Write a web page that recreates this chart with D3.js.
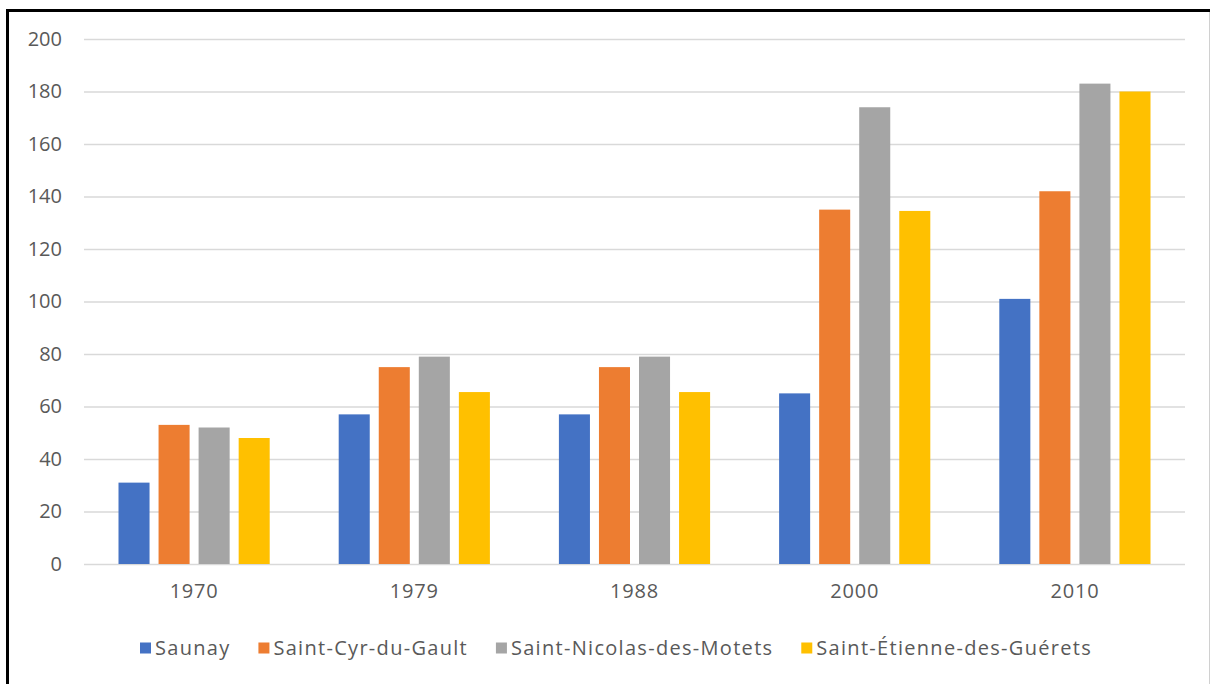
<!DOCTYPE html>
<html>
<head>
<meta charset="utf-8">
<script src="https://cdn.jsdelivr.net/npm/d3@7"></script>
<style>
  html, body { margin: 0; padding: 0; background: #fff; }
  svg { display: block; }
  text { font-family: "Open Sans", "Liberation Sans", sans-serif; fill: #595959; }
</style>
</head>
<body>
<svg id="chart" width="1211" height="684"></svg>
<script>
const years = ["1970", "1979", "1988", "2000", "2010"];
const seriesNames = ["Saunay", "Saint-Cyr-du-Gault", "Saint-Nicolas-des-Motets", "Saint-Étienne-des-Guérets"];
const saunay = [31, 57, 57, 65, 101];
const saintCyr = [53, 75, 75, 135, 142];
const saintNicolas = [52, 79, 79, 174, 183];
const saintEtienne = [48, 65.5, 65.5, 134.5, 180];
const seriesValues = [saunay, saintCyr, saintNicolas, saintEtienne];
const colors = ["#4472C4", "#ED7D31", "#A5A5A5", "#FFC000"];
const yTicks = [0, 20, 40, 60, 80, 100, 120, 140, 160, 180, 200];

const svg = d3.select("#chart");
const W = 1211, H = 684;

// frame
svg.append("line").attr("x1", 7.5).attr("x2", 7.5).attr("y1", 9).attr("y2", H).attr("stroke", "#000").attr("stroke-width", 3);
svg.append("line").attr("x1", 6).attr("x2", 1210).attr("y1", 10.5).attr("y2", 10.5).attr("stroke", "#000").attr("stroke-width", 3);
svg.append("line").attr("x1", 1209.5).attr("x2", 1209.5).attr("y1", 12).attr("y2", H).attr("stroke", "#d0d0d0").attr("stroke-width", 1);

const plot = { left: 84, right: 1185, top: 39, bottom: 564 };

const y = d3.scaleLinear().domain([0, 200]).range([plot.bottom, plot.top]);
const x0 = d3.scaleBand().domain(years).range([plot.left, plot.right]).paddingInner(0).paddingOuter(0);
const groupPad = 34.5;
const x1 = d3.scaleBand().domain(seriesNames)
  .range([groupPad, x0.bandwidth() - groupPad]).paddingInner(0.225).paddingOuter(0);

// gridlines
const yAxis = d3.axisLeft(y).tickValues(yTicks).tickSize(-(plot.right - plot.left)).tickPadding(22).tickFormat(d3.format("d"));
const gy = svg.append("g").attr("transform", `translate(${plot.left},0)`).call(yAxis);
gy.select(".domain").remove();
gy.selectAll(".tick line").attr("stroke", "#d9d9d9").attr("stroke-width", 1.3);
gy.selectAll(".tick text").attr("font-size", 20).attr("fill", "#595959")
  .style("font-family", '"Open Sans", sans-serif');

// bars
const data = [];
years.forEach((yr, i) => {
  seriesNames.forEach((s, j) => data.push({ year: yr, series: s, value: seriesValues[j][i], color: colors[j] }));
});
svg.append("g").selectAll("rect").data(data).join("rect")
  .attr("x", d => x0(d.year) + x1(d.series))
  .attr("y", d => y(d.value))
  .attr("width", x1.bandwidth())
  .attr("height", d => y(0) - y(d.value))
  .attr("fill", d => d.color);

// x axis labels
const xAxis = d3.axisBottom(x0).tickSize(0).tickPadding(20);
const gx = svg.append("g").attr("transform", `translate(0,${plot.bottom})`).call(xAxis);
gx.select(".domain").remove();
gx.selectAll(".tick text").attr("font-size", 20).attr("fill", "#595959")
  .style("letter-spacing", "0.8px")
  .style("font-family", '"Open Sans", sans-serif');

// legend
const legend = svg.append("g").attr("transform", "translate(0,648)");
const items = legend.selectAll("g").data(seriesNames).join("g");
items.append("rect").attr("width", 11).attr("height", 11).attr("y", -5.5).attr("fill", (d, i) => colors[i]);
items.append("text").attr("x", 15).attr("dy", "0.35em").attr("font-size", 20)
  .style("letter-spacing", "1.3px").text(d => d);
const widths = [];
items.each(function () { widths.push(this.getBBox().width); });
const startX = 140, endX = 1092;
const totalW = d3.sum(widths);
const gap = (endX - startX - totalW) / (seriesNames.length - 1);
let cx = startX;
items.each(function (d, i) {
  d3.select(this).attr("transform", `translate(${cx},0)`);
  cx += widths[i] + gap;
});
</script>
</body>
</html>
